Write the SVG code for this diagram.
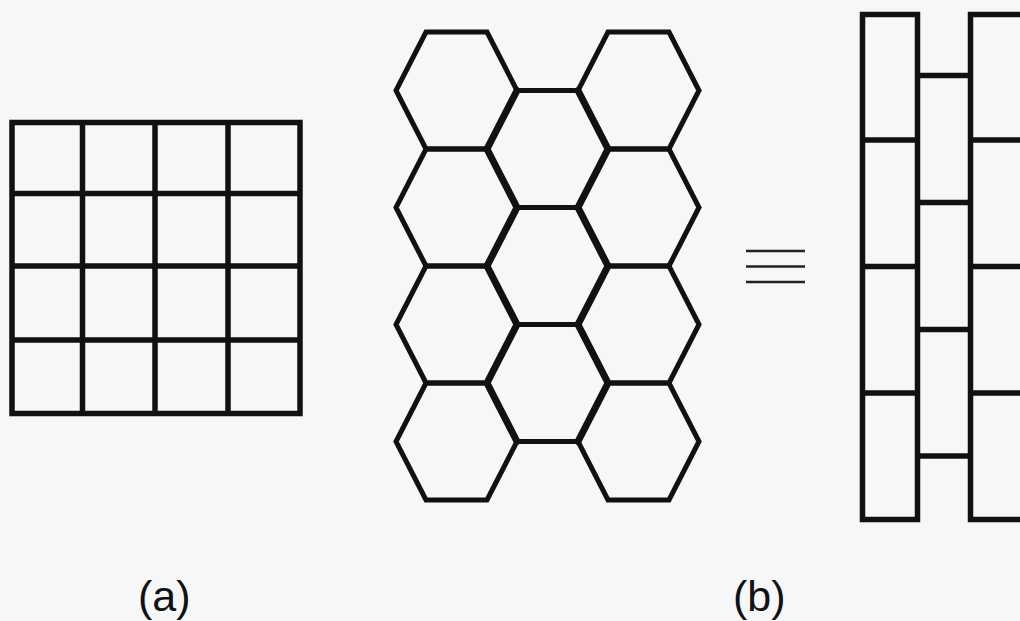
<svg xmlns="http://www.w3.org/2000/svg" width="1020" height="621" viewBox="0 0 1020 621">
<style>
.ln{fill:none;stroke:#111;stroke-width:5.5;stroke-linejoin:miter}
.hx{fill:none;stroke:#111;stroke-width:5;stroke-linejoin:miter}
.thick{fill:none;stroke:#111;stroke-width:7;stroke-linecap:round}
.eq{stroke:#222;stroke-width:2.6}
.lbl{font-family:"Liberation Sans",Arial,sans-serif;font-size:43px;fill:#111}
</style>
<rect width="1020" height="621" fill="#f6f7f9"/>
<g id="square-grid">
<rect class="ln" x="12" y="122.5" width="288" height="291"/>
<line class="ln" x1="82.5" y1="122.5" x2="82.5" y2="413.5"/>
<line class="ln" x1="155" y1="122.5" x2="155" y2="413.5"/>
<line class="ln" x1="228" y1="122.5" x2="228" y2="413.5"/>
<line class="ln" x1="12" y1="193.5" x2="300" y2="193.5"/>
<line class="ln" x1="12" y1="266" x2="300" y2="266"/>
<line class="ln" x1="12" y1="340" x2="300" y2="340"/>
</g>
<g id="hex-grid">
<polygon class="hx" points="426,32 487,32 517,90.5 487,149 426,149 396,90.5"/>
<polygon class="hx" points="426,149 487,149 517,207.5 487,266 426,266 396,207.5"/>
<polygon class="hx" points="426,266 487,266 517,324.5 487,383 426,383 396,324.5"/>
<polygon class="hx" points="426,383 487,383 517,441.5 487,500 426,500 396,441.5"/>
<polygon class="hx" points="517,90.5 578,90.5 608,149 578,207.5 517,207.5 487,149"/>
<polygon class="hx" points="517,207.5 578,207.5 608,266 578,324.5 517,324.5 487,266"/>
<polygon class="hx" points="517,324.5 578,324.5 608,383 578,441.5 517,441.5 487,383"/>
<polygon class="hx" points="608,32 669,32 699,90.5 669,149 608,149 578,90.5"/>
<polygon class="hx" points="608,149 669,149 699,207.5 669,266 608,266 578,207.5"/>
<polygon class="hx" points="608,266 669,266 699,324.5 669,383 608,383 578,324.5"/>
<polygon class="hx" points="608,383 669,383 699,441.5 669,500 608,500 578,441.5"/>
<polyline class="thick" points="517,90.5 487,149 517,207.5 487,266 517,324.5 487,383 517,441.5"/>
<polyline class="thick" points="578,90.5 608,149 578,207.5 608,266 578,324.5 608,383 578,441.5"/>
</g>
<g id="equiv">
<line class="eq" x1="746" y1="251" x2="805" y2="251"/>
<line class="eq" x1="746" y1="266.5" x2="805" y2="266.5"/>
<line class="eq" x1="746" y1="282" x2="805" y2="282"/>
</g>
<g id="brick-wall">
<rect class="ln" x="862.5" y="14.5" width="55" height="505"/>
<rect class="ln" x="970.5" y="14.5" width="70" height="505"/>
<line class="ln" x1="862.5" y1="140" x2="917.5" y2="140"/>
<line class="ln" x1="862.5" y1="266.5" x2="917.5" y2="266.5"/>
<line class="ln" x1="862.5" y1="393" x2="917.5" y2="393"/>
<line class="ln" x1="970.5" y1="140" x2="1020" y2="140"/>
<line class="ln" x1="970.5" y1="266.5" x2="1020" y2="266.5"/>
<line class="ln" x1="970.5" y1="393" x2="1020" y2="393"/>
<line class="ln" x1="917.5" y1="75.5" x2="970.5" y2="75.5"/>
<line class="ln" x1="917.5" y1="202.5" x2="970.5" y2="202.5"/>
<line class="ln" x1="917.5" y1="329.5" x2="970.5" y2="329.5"/>
<line class="ln" x1="917.5" y1="456" x2="970.5" y2="456"/>
</g>
<g id="labels">
<text class="lbl" x="138" y="611">(a)</text>
<text class="lbl" x="733" y="611">(b)</text>
</g>
</svg>
